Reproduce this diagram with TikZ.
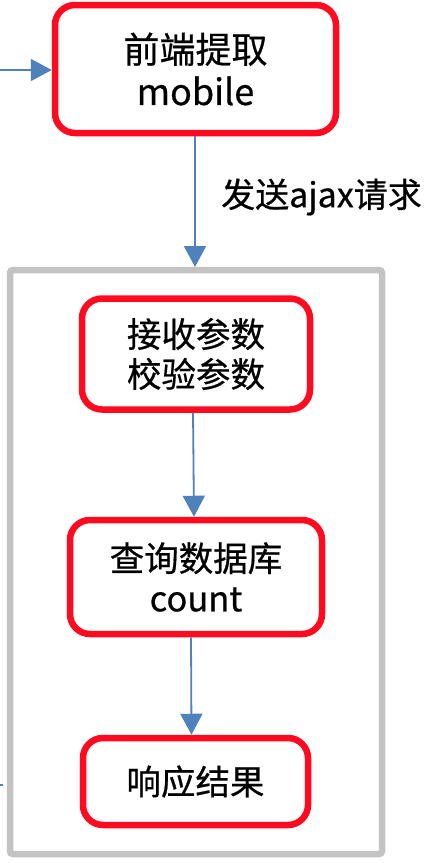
\documentclass[tikz,border=0pt]{standalone}
\usepackage{fontspec}
\setmainfont[FakeBold=0.6]{Noto Sans CJK SC}
\usetikzlibrary{arrows.meta}
\definecolor{boxred}{HTML}{FF0A1E}
\definecolor{arrowblue}{HTML}{4F81BD}
\definecolor{framegray}{HTML}{C3C3C3}
\begin{document}
\begin{tikzpicture}[x=1pt,y=-1pt,
  redbox/.style={draw=boxred,line width=6.5pt,rounded corners=20pt,fill=white,inner sep=0pt,align=center,
     font=\fontsize{34.5}{40}\selectfont},
  flowarrow/.style={draw=arrowblue,line width=1.8pt,-{Triangle[length=21pt,width=22pt]}},
  labeltext/.style={font=\fontsize{34}{38}\selectfont,inner sep=0pt}
]
\useasboundingbox (0,0) rectangle (428,863);
\draw[framegray,line width=6.5pt,rounded corners=3pt] (10,270) rectangle (382,854);
\node[redbox,minimum width=281pt,minimum height=128pt,font=\fontsize{36}{42}\selectfont] (b1) at (195.5,69) {前端提取\\mobile};
\node[redbox,minimum width=228pt,minimum height=111pt] (b2) at (196,354) {接收参数\\校验参数};
\node[redbox,minimum width=252pt,minimum height=114pt] (b3) at (196,577) {查询数据库\\count};
\node[redbox,minimum width=225pt,minimum height=87pt] (b4) at (195.5,781.5) {响应结果};
\coordinate (leftin) at (0,70);
\coordinate (frametop) at (195,267);
\coordinate (stubA) at (0,785);
\coordinate (stubB) at (3,785);
\draw[flowarrow] (leftin) -- (b1.west |- leftin);
\draw[flowarrow] (b1.south -| frametop) -- (frametop);
\draw[flowarrow] ([xshift=-3pt]b2.south) -- ([xshift=-2pt]b3.north);
\draw[flowarrow] ([xshift=-5pt]b3.south) -- ([xshift=-4pt]b4.north);
\draw[arrowblue,line width=1.8pt] (stubA) -- (stubB);
\node[labeltext,anchor=west] (lbl) at (221,197) {发送ajax请求};
\end{tikzpicture}
\end{document}
